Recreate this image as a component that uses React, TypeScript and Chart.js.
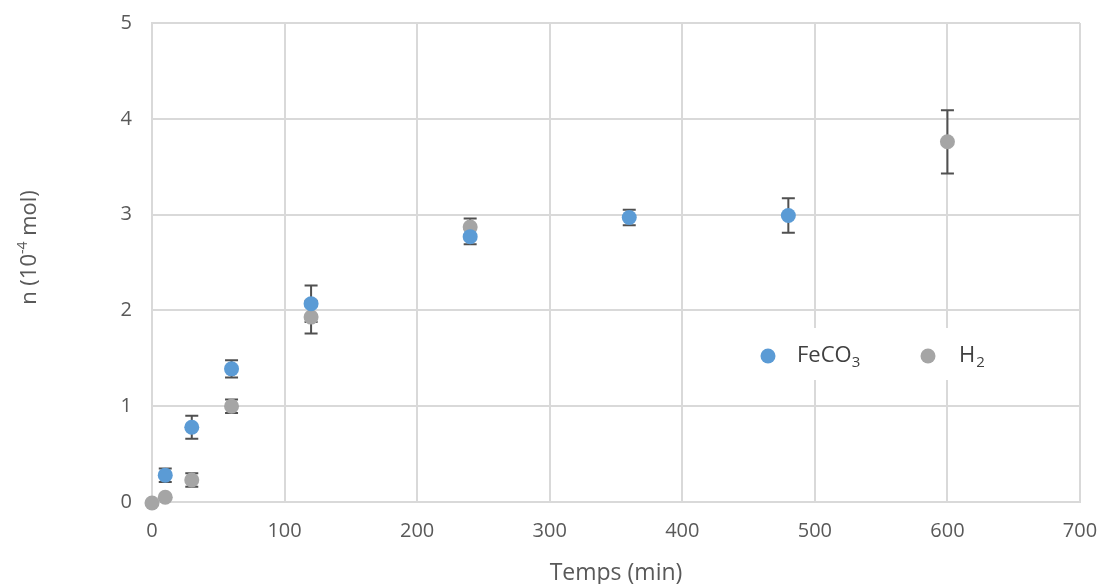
import React, { useEffect, useRef } from "react";
import { Chart, registerables } from "chart.js";

Chart.register(...registerables);

const feco3Times = [10, 30, 60, 120, 240, 360, 480];
const feco3Values = [0.28, 0.78, 1.39, 2.07, 2.77, 2.97, 2.99];
const feco3Errors = [0.07, 0.12, 0.09, 0.19, 0.08, 0.08, 0.18];

const h2Times = [0, 10, 30, 60, 120, 240, 600];
const h2Values = [-0.01, 0.05, 0.23, 1.0, 1.93, 2.87, 3.76];
const h2Errors = [0, 0, 0.07, 0.07, 0.17, 0.09, 0.33];

const xTicks = [0, 100, 200, 300, 400, 500, 600, 700];
const yTicks = [0, 1, 2, 3, 4, 5];

const BLUE = "#5B9BD5";
const GRAY = "#A5A5A5";
const TEXT = "#595959";
const GRID = "#D9D9D9";
const FONT = "'Open Sans', 'Liberation Sans', sans-serif";

const errorBarsPlugin = {
  id: "errorBars",
  beforeDatasetsDraw(chart: any) {
    const ctx = chart.ctx;
    const xs = chart.scales.x;
    const ys = chart.scales.y;
    ctx.save();
    ctx.strokeStyle = "#505050";
    ctx.lineWidth = 2;
    chart.data.datasets.forEach((ds: any) => {
      const errs: number[] = ds.errors || [];
      ds.data.forEach((p: any, i: number) => {
        const e = errs[i];
        if (!e) return;
        const px = xs.getPixelForValue(p.x);
        const top = ys.getPixelForValue(p.y + e);
        const bot = ys.getPixelForValue(p.y - e);
        ctx.beginPath();
        ctx.moveTo(px, top);
        ctx.lineTo(px, bot);
        ctx.moveTo(px - 6.5, top);
        ctx.lineTo(px + 6.5, top);
        ctx.moveTo(px - 6.5, bot);
        ctx.lineTo(px + 6.5, bot);
        ctx.stroke();
      });
    });
    ctx.restore();
  },
};

const decorPlugin = {
  id: "decor",
  afterDraw(chart: any) {
    const ctx = chart.ctx;
    const ca = chart.chartArea;
    ctx.save();
    // Legend box
    const lx = ca.left + 593;
    const ly = ca.top + 305;
    ctx.fillStyle = "#FFFFFF";
    ctx.fillRect(lx, ly, 255, 52);
    const cy = ly + 28;
    ctx.fillStyle = BLUE;
    ctx.beginPath();
    ctx.arc(lx + 23, cy, 7.5, 0, Math.PI * 2);
    ctx.fill();
    ctx.fillStyle = GRAY;
    ctx.beginPath();
    ctx.arc(lx + 183, cy, 7.5, 0, Math.PI * 2);
    ctx.fill();
    ctx.fillStyle = "#404040";
    ctx.textBaseline = "middle";
    ctx.textAlign = "left";
    ctx.font = `22px ${FONT}`;
    const t1 = "FeCO";
    ctx.fillText(t1, lx + 52, cy);
    const w1 = ctx.measureText(t1).width;
    ctx.font = `15px ${FONT}`;
    ctx.fillText("3", lx + 52 + w1, cy + 7);
    ctx.font = `22px ${FONT}`;
    const t2 = "H";
    ctx.fillText(t2, lx + 214, cy);
    const w2 = ctx.measureText(t2).width;
    ctx.font = `15px ${FONT}`;
    ctx.fillText("2", lx + 214 + w2 + 1, cy + 7);

    // X axis title
    ctx.fillStyle = TEXT;
    ctx.font = `23px ${FONT}`;
    ctx.textAlign = "center";
    ctx.fillText("Temps (min)", (ca.left + ca.right) / 2, 573);

    // Y axis title (rotated)
    ctx.translate(30, (ca.top + ca.bottom) / 2 - 15);
    ctx.rotate(-Math.PI / 2);
    const parts = [
      { t: "n (10", s: 22, dy: 0 },
      { t: "-4", s: 14, dy: -7 },
      { t: " mol)", s: 22, dy: 0 },
    ];
    let total = 0;
    parts.forEach((p) => {
      ctx.font = `${p.s}px ${FONT}`;
      total += ctx.measureText(p.t).width;
    });
    let x = -total / 2;
    ctx.textAlign = "left";
    parts.forEach((p) => {
      ctx.font = `${p.s}px ${FONT}`;
      ctx.fillText(p.t, x, p.dy);
      x += ctx.measureText(p.t).width;
    });
    ctx.restore();
  },
};

export default function App() {
  const ref = useRef<HTMLCanvasElement | null>(null);
  useEffect(() => {
    document.body.style.margin = "0";
    const canvas = ref.current;
    if (!canvas) return;
    const chart = new Chart(canvas, {
      type: "scatter",
      data: {
        datasets: [
          {
            label: "FeCO3",
            data: feco3Times.map((t, i) => ({ x: t, y: feco3Values[i] })),
            errors: feco3Errors,
            backgroundColor: BLUE,
            borderColor: BLUE,
            pointRadius: 7.5,
            pointBorderWidth: 0,
            clip: false,
          } as any,
          {
            label: "H2",
            data: h2Times.map((t, i) => ({ x: t, y: h2Values[i] })),
            errors: h2Errors,
            backgroundColor: GRAY,
            borderColor: GRAY,
            pointRadius: 7.5,
            pointBorderWidth: 0,
            clip: false,
          } as any,
        ],
      },
      options: {
        animation: false,
        responsive: false,
        maintainAspectRatio: false,
        layout: { autoPadding: false, padding: { left: 0, top: 23, right: 27, bottom: 0 } },
        plugins: {
          legend: { display: false },
          tooltip: { enabled: false },
        },
        scales: {
          x: {
            type: "linear",
            min: 0,
            max: 700,
            afterFit: (s: any) => {
              s.height = 82;
              s.paddingLeft = 0;
              s.paddingRight = 0;
            },
            afterBuildTicks: (s: any) => {
              s.ticks = xTicks.map((v) => ({ value: v }));
            },
            grid: { color: GRID, lineWidth: 2, drawTicks: false },
            border: { color: GRID, width: 2 },
            ticks: {
              color: TEXT,
              font: { family: FONT, size: 20 },
              padding: 17,
              maxRotation: 0,
            },
          },
          y: {
            type: "linear",
            min: 0,
            max: 5,
            afterFit: (s: any) => {
              s.width = 152;
              s.paddingTop = 0;
              s.paddingBottom = 0;
            },
            afterBuildTicks: (s: any) => {
              s.ticks = yTicks.map((v) => ({ value: v }));
            },
            grid: { color: GRID, lineWidth: 2, drawTicks: false },
            border: { color: GRID, width: 2 },
            ticks: {
              color: TEXT,
              font: { family: FONT, size: 20 },
              padding: 20,
            },
          },
        },
      },
      plugins: [errorBarsPlugin, decorPlugin],
    } as any);
    return () => chart.destroy();
  }, []);
  return (
    <div style={{ width: 1107, height: 584, background: "#fff" }}>
      <canvas ref={ref} width={1107} height={584} style={{ display: "block" }} />
    </div>
  );
}
